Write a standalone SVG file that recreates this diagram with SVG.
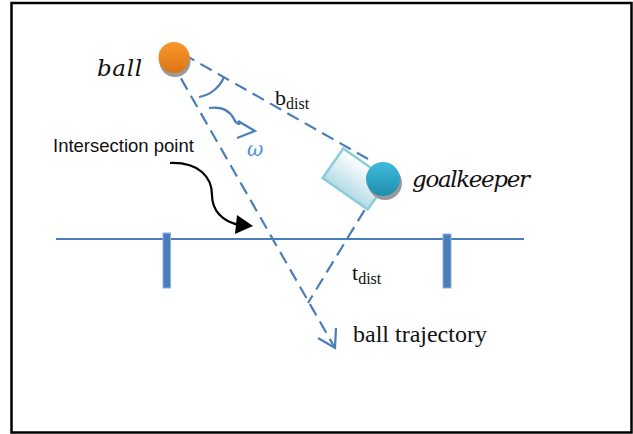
<svg xmlns="http://www.w3.org/2000/svg" width="633" height="434" viewBox="0 0 633 434">
<defs>
<style>
.dash{fill:none;stroke:#4a7ebb;stroke-width:2.2;stroke-dasharray:13 7}
.solid{fill:none;stroke:#4a7ebb;stroke-width:2.2}
.post{fill:#4a7ebb;stroke:#8fb0da;stroke-width:1}
.math{font-family:"DejaVu Serif",serif;font-style:italic;fill:#111}
.tnr{font-family:"Liberation Serif",serif;fill:#111}
.arial{font-family:"Liberation Sans",Arial,sans-serif;fill:#111}
</style>
<linearGradient id="gBall" x1="0" y1="0" x2="0" y2="1">
<stop offset="0" stop-color="#f9982a"/>
<stop offset="1" stop-color="#dd7417"/>
</linearGradient>
<linearGradient id="gKeep" x1="0" y1="0" x2="0" y2="1">
<stop offset="0" stop-color="#3fbbdc"/>
<stop offset="1" stop-color="#1f8eae"/>
</linearGradient>
<linearGradient id="gRect" x1="0" y1="0" x2="0" y2="1">
<stop offset="0" stop-color="#ffffff"/>
<stop offset="1" stop-color="#b3dbe6"/>
</linearGradient>
</defs>
<rect x="0" y="0" width="633" height="434" fill="#fff"/>
<rect x="11.5" y="3" width="620" height="429.5" fill="none" stroke="#000" stroke-width="2.5"/>

<g id="goal">
<line x1="56" y1="239" x2="524" y2="239" class="solid"/>
<rect x="163" y="233" width="7.5" height="55" class="post"/>
<rect x="443" y="234" width="8" height="54" class="post"/>
</g>

<g id="connectors">
<line x1="171" y1="61" x2="335" y2="348" class="dash"/>
<polyline points="318,338 335,348 336,328" class="solid"/>
<line x1="183" y1="54" x2="368" y2="159" class="dash"/>
<line x1="375" y1="193" x2="308" y2="303" class="dash"/>
<path d="M199,97 A33,33 0 0 0 224,77" class="solid"/>
<path d="M209,108 C222,106 230,111 234,119 C236,124 242,126 239,121" class="solid"/>
<polyline points="238,121 255,131 237,138" class="solid"/>
<path d="M170,163 C200,162 212,178 212,195 C212,210 222,222 240,225" fill="none" stroke="#000" stroke-width="2.2"/>
<polygon points="253,226 237,215 235,234" fill="#000"/>
</g>

<g id="goalkeeper">
<rect x="-27.5" y="-18" width="55" height="36" fill="url(#gRect)" stroke="#8ccbdb" stroke-width="2.5" transform="translate(355.5,179) rotate(35)"/>
<circle cx="385" cy="183" r="17" fill="#9a9a9a"/>
<circle cx="383" cy="179" r="17" fill="url(#gKeep)"/>
<text x="412" y="187" class="math" font-size="23" textLength="118">goalkeeper</text>
</g>

<g id="ball">
<circle cx="175" cy="61.5" r="15.5" fill="#9a9a9a"/>
<circle cx="174" cy="57.5" r="15.5" fill="url(#gBall)"/>
<text x="97" y="76" class="math" font-size="23" textLength="45">ball</text>
</g>

<g id="labels">
<text x="275" y="105" class="tnr" font-size="22">b<tspan font-size="16" dy="4">dist</tspan></text>
<text x="352" y="280" class="tnr" font-size="22">t<tspan font-size="16" dy="4">dist</tspan></text>
<text x="353" y="342" class="tnr" font-size="24">ball trajectory</text>
<text x="53" y="152" class="arial" font-size="18.5">Intersection point</text>
<text x="247" y="156" font-family="DejaVu Serif,serif" font-style="italic" font-size="20" fill="#4f8fd8">ω</text>
</g>
</svg>
